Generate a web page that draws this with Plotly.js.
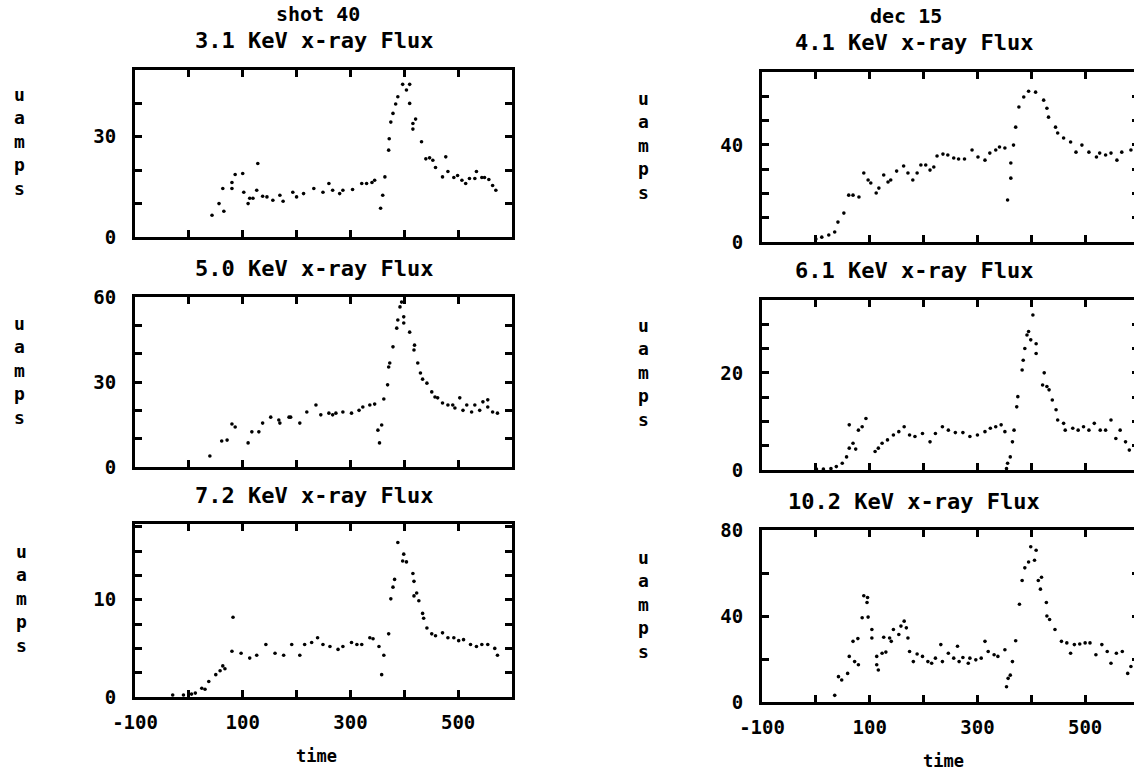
<!DOCTYPE html>
<html>
<head>
<meta charset="utf-8">
<script src="https://cdn.plot.ly/plotly-3.0.1.min.js"></script>
<style>
html, body { margin: 0; padding: 0; overflow: hidden; background: #fff; }
#chart { width: 1150px; height: 775px; }
</style>
</head>
<body>
<div id="chart"></div>
<script>
// ---------- data ----------
const headerLeft = "shot 40";
const headerRight = "dec 15";
const panelTitles = ["3.1 KeV x-ray Flux", "5.0 KeV x-ray Flux", "7.2 KeV x-ray Flux",
                     "4.1 KeV x-ray Flux", "6.1 KeV x-ray Flux", "10.2 KeV x-ray Flux"];
const yLabel = "u<br>a<br>m<br>p<br>s";
const xLabel = "time";

const xTickVals = [-100, 0, 100, 200, 300, 400, 500, 600];
const xTickText = ["-100", "", "100", "", "300", "", "500", ""];

const yTickVals1 = [0, 10, 20, 30, 40, 50];
const yTickText1 = ["0", "", "", "30", "", ""];
const yTickVals2 = [0, 10, 20, 30, 40, 50, 60];
const yTickText2 = ["0", "", "", "30", "", "", "60"];
const yTickVals3 = [0, 2.5, 5, 7.5, 10, 12.5, 15, 17.5];
const yTickText3 = ["0", "", "", "", "10", "", "", ""];
const yTickVals4 = [0, 10, 20, 30, 40, 50, 60, 70];
const yTickText4 = ["0", "", "", "", "40", "", "", ""];
const yTickVals5 = [0, 5, 10, 15, 20, 25, 30, 35];
const yTickText5 = ["0", "", "", "", "20", "", "", ""];
const yTickVals6 = [0, 20, 40, 60, 80];
const yTickText6 = ["0", "", "40", "", "80"];

const t1 = [43,56,63,65,80,80,86,100,102,110,113,119,126,128,137,145,156,169,175,193,200,213,232,249,260,267,280,286,304,321,330,340,345,356,360,364,371,372,375,379,384,388,397,404,410,410,416,416,421,432,440,447,453,458,471,477,481,492,499,507,514,521,531,534,544,549,557,564,570];
const v1 = [6.5,10,14.5,7.7,16.3,14.5,18.7,19,13.4,10,11.6,11.6,14,22,12.2,12,11,12.5,10.7,13.4,12,13,14.5,13.4,16,14,13,14,14.2,16,16,16.3,17,8.6,12.5,18,26,29.4,34.4,37,39.8,42,45.7,44,45.7,40,34,32.3,35.3,28.5,23.4,23.7,23,20.8,18,24,19.6,17.8,18.4,17,16,17.5,17.5,19.6,17.8,17.8,17.2,15.4,14];

const t2 = [39,61,71,80,86,110,117,130,137,152,167,169,186,189,206,219,236,245,260,267,273,286,302,316,323,336,345,351,354,358,362,369,371,373,379,386,388,392,395,399,399,410,418,419,425,430,434,442,451,457,462,471,481,490,494,503,509,516,525,531,540,546,555,555,564,573];
const v2 = [3.9,9.2,9.5,15.2,14.1,8.5,12.4,12.4,15.5,17.6,16.6,15.5,17.6,17.6,15.5,19.4,21.9,18.4,19,18.4,19,19.4,19,20,21.2,21.9,22.2,13,8.5,14.8,24,29,35.3,36.7,42.4,49,51.9,56.5,58.2,53,50.8,47.6,41.3,43,36.7,33.2,31,29.6,26.5,24.7,24.4,22.6,21.9,21.9,20.8,24.4,20,21.9,19.4,21.9,20,23,23.7,21.2,19.4,19];

const t3 = [-30,-10,5,12,24,30,37,50,58,63,67,80,82,97,113,126,143,160,176,191,206,215,228,239,249,262,277,286,302,312,321,336,342,353,358,362,371,375,379,382,388,397,399,404,416,418,418,423,427,434,436,442,451,458,471,481,492,501,510,523,534,544,555,568,573];
const v3 = [0.2,0.2,0.3,0.4,0.9,0.8,1.6,2.3,2.7,3.2,2.9,4.7,8.2,4.5,4.0,4.3,5.4,4.5,4.3,5.4,4.3,5.4,5.6,6.1,5.4,5.2,4.9,5.2,5.6,5.4,5.4,6.1,6.0,5.2,2.3,4.3,6.5,10.1,11.3,12.1,15.9,14,14.7,13.9,12.7,11.9,10.4,10.7,9.9,8.6,8.1,7.1,6.5,6.3,6.6,6.1,6.1,5.8,5.9,5.4,5.2,5.4,5.4,5.0,4.3];

const t4 = [0,11,24,35,41,52,61,69,80,89,97,102,112,117,126,134,139,150,163,171,180,188,195,204,212,219,225,236,245,256,265,276,290,301,314,323,334,341,351,356,362,362,367,371,377,386,395,408,423,429,432,445,449,460,473,483,494,507,521,527,538,548,559,568,585];
const v4 = [1.2,2,2.9,4.1,8.2,11.9,19.3,19.3,18.5,28.4,25.5,24.3,20.2,22.2,27.6,24.7,25.5,29.2,31.3,28.4,25.5,28.4,31.7,31.7,29.6,30.9,35.4,36.2,35.8,34.6,34.2,34.2,37.9,35,33.7,36.6,37.9,39.1,38.7,17.3,26.3,32.5,39.9,47.3,55.6,59.7,62.1,61.7,58.4,55.1,51.4,47.3,44.9,42.8,41.2,37,39.9,37,35,36.6,35.8,36.6,33.7,37,37.9];

const t5 = [1,14,28,38,49,57,62,62,69,74,79,86,93,110,116,123,133,144,154,164,174,184,198,212,222,235,246,259,273,286,300,314,324,334,344,351,354,356,361,365,368,373,375,383,385,388,392,395,399,403,409,409,421,424,429,433,439,446,449,460,463,477,487,497,507,517,528,538,548,557,565,575,582];
const v5 = [0.2,0.2,0.3,0.7,1.4,2.7,4.5,9.3,5.5,4.3,8.2,8.9,10.6,3.8,4.5,5.5,6.2,7.2,7.9,8.9,7.2,6.9,7.5,5.8,7.5,8.9,8.2,7.7,7.7,6.9,7.2,7.9,8.6,8.9,9.3,7.9,0.3,1.4,2.7,5.8,8.2,13,15.1,20.6,22.6,25,27.8,28.5,26.8,31.9,24,26,17.5,20,17.2,16.5,14.4,12.4,10.3,9.6,8.2,8.6,8.2,8.9,8.2,9.6,8.2,8.2,10.3,6.5,8.2,5.8,4.1];

const t6 = [35,42,48,59,62,69,72,78,79,86,89,95,96,97,104,104,113,113,116,123,126,130,137,140,144,154,158,164,168,171,174,181,188,198,208,215,222,232,235,246,256,263,266,273,283,286,297,307,314,320,331,338,351,354,357,361,365,371,378,383,388,395,399,406,409,413,417,419,428,429,434,444,456,466,473,480,490,500,509,520,531,541,548,558,569,579,585];
const v6 = [3.1,11.8,10.2,13.3,21.2,28.2,18.8,29.5,17.3,39.2,49.4,46.3,48.6,39.5,33.7,29.8,17.3,21.2,14.9,22.7,30.1,23.2,29.8,28.2,33.7,31.4,35.3,37.6,34.5,29.8,23.5,18.8,22.3,21.2,18.8,18,20.4,26.7,18.8,22.7,20.4,25.9,18.8,20.7,18,20.4,19.6,20.4,28.2,23.5,22,21.2,24.3,7.1,11,12.5,18.8,28.5,45.5,56.5,62.4,65.1,72.2,65.9,70.6,56.5,52.5,58,46.3,40,38.4,33.7,28.2,27.5,22.7,26.7,27,27.5,27.5,22,26.7,23.5,18,22.7,23.5,13.3,16.5];

// ---------- layout ----------
const W = 1150, H = 775;
const FONT = "DejaVu Sans Mono";
const px = x => x / W;
const py = y => 1 - y / H;

const panels = [
  {t: t1, v: v1, yv: yTickVals1, yt: yTickText1, ymax: 50,   box: [135, 512, 70, 237],   bottom: false, titleX: 314, labelX: 19},
  {t: t2, v: v2, yv: yTickVals2, yt: yTickText2, ymax: 60,   box: [135, 512, 297, 467],  bottom: false, titleX: 314, labelX: 19},
  {t: t3, v: v3, yv: yTickVals3, yt: yTickText3, ymax: 17.8, box: [135, 512, 524, 697],  bottom: true,  titleX: 314, labelX: 21},
  {t: t4, v: v4, yv: yTickVals4, yt: yTickText4, ymax: 70,   box: [762, 1139, 72, 242],  bottom: false, titleX: 914, labelX: 643},
  {t: t5, v: v5, yv: yTickVals5, yt: yTickText5, ymax: 35,   box: [762, 1139, 300, 470], bottom: false, titleX: 914, labelX: 643},
  {t: t6, v: v6, yv: yTickVals6, yt: yTickText6, ymax: 80,   box: [762, 1139, 530, 702], bottom: true,  titleX: 914, labelX: 643}
];

const tickFont = {family: FONT, size: 19, color: "#000", weight: "bold"};
const data = [];
const layout = {
  width: W, height: H,
  margin: {l: 0, r: 0, t: 0, b: 0},
  paper_bgcolor: "#fff", plot_bgcolor: "#fff",
  showlegend: false,
  annotations: []
};

panels.forEach((p, i) => {
  const n = i + 1;
  const sfx = n === 1 ? "" : String(n);
  data.push({
    type: "scatter", mode: "markers",
    x: p.t, y: p.v,
    xaxis: "x" + sfx, yaxis: "y" + sfx,
    marker: {color: "#000", size: 3.6},
    hoverinfo: "skip"
  });
  const common = {
    showline: true, linewidth: 3, linecolor: "#000",
    mirror: "allticks", ticks: "inside", ticklen: 7, tickwidth: 3, tickcolor: "#000",
    showgrid: false, zeroline: false, fixedrange: true,
    tickfont: tickFont, tickmode: "array"
  };
  layout["xaxis" + sfx] = Object.assign({}, common, {
    domain: [px(p.box[0]), px(p.box[1])],
    range: [-100, 600],
    anchor: "y" + sfx,
    tickvals: xTickVals, ticktext: xTickText,
    showticklabels: p.bottom,
    ticklabelstandoff: 6
  });
  layout["yaxis" + sfx] = Object.assign({}, common, {
    domain: [py(p.box[3]), py(p.box[2])],
    range: [0, p.ymax],
    anchor: "x" + sfx,
    tickvals: p.yv, ticktext: p.yt,
    ticklabelstandoff: 12
  });
  layout.annotations.push({
    xref: "paper", yref: "paper", x: px(p.titleX), y: py(p.box[2] - 29),
    xanchor: "center", yanchor: "middle", showarrow: false,
    text: panelTitles[i], font: {family: FONT, size: 22, color: "#000", weight: "bold"}
  });
  layout.annotations.push({
    xref: "paper", yref: "paper", x: px(p.labelX), y: py((p.box[2] + p.box[3]) / 2 - 12),
    xanchor: "center", yanchor: "middle", showarrow: false, align: "center",
    text: yLabel, font: {family: FONT, size: 18, color: "#000", weight: "bold"}
  });
  if (p.bottom) {
    layout.annotations.push({
      xref: "paper", yref: "paper", x: px(p.box[0] + 181), y: py(p.box[3] + 59),
      xanchor: "center", yanchor: "middle", showarrow: false,
      text: xLabel, font: {family: FONT, size: 17, color: "#000", weight: "bold"}
    });
  }
});

layout.annotations.push({
  xref: "paper", yref: "paper", x: px(318), y: py(14),
  xanchor: "center", yanchor: "middle", showarrow: false,
  text: headerLeft, font: {family: FONT, size: 20, color: "#000", weight: "bold"}
});
layout.annotations.push({
  xref: "paper", yref: "paper", x: px(906), y: py(16),
  xanchor: "center", yanchor: "middle", showarrow: false,
  text: headerRight, font: {family: FONT, size: 20, color: "#000", weight: "bold"}
});

Plotly.newPlot("chart", data, layout, {displayModeBar: false, staticPlot: true});
</script>
</body>
</html>
